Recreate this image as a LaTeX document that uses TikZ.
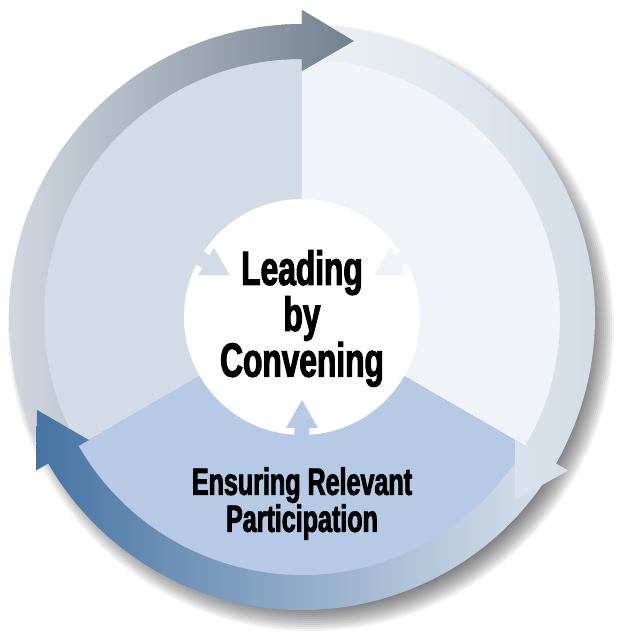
\documentclass[tikz,border=0pt]{standalone}
\usepackage{fontspec}
\newfontfamily\condfont{Liberation Sans}[FakeStretch=0.66, BoldFeatures={FakeBold=2.2}]
\definecolor{sectl}{HTML}{D3DBE7}
\definecolor{sectr}{HTML}{F0F4F8}
\definecolor{sectb}{HTML}{B7CAE5}
\definecolor{toplight}{HTML}{DCE2E9}
\definecolor{topdark}{HTML}{738090}
\definecolor{rightlight}{HTML}{EEF2F6}
\definecolor{rightdark}{HTML}{D3DCE6}
\definecolor{botdark}{HTML}{4673A2}
\definecolor{botlight}{HTML}{DCE4EE}
\usetikzlibrary{positioning}

\begin{document}
\begin{tikzpicture}[x=1pt, y=1pt,
    ringarrow/.style 2 args={insert path={
      (#1:293) arc[start angle=#1, end angle=#2, radius=293]
      -- (#2:307) -- ([shift={(#2-90:52)}]#2:276) -- (#2:246)
      -- (#2:258) arc[start angle=#2, end angle=#1, radius=258] -- cycle}},
    toparrow/.style={left color=toplight, right color=topdark},
    rightarrow/.style={left color=rightlight, right color=rightdark},
    botarrow/.style={left color=botdark, right color=botlight},
    hubtext/.style={font=\condfont\bfseries\fontsize{48}{39.5}\selectfont, align=center, inner sep=0pt},
    sectortext/.style={font=\condfont\bfseries\fontsize{38}{37}\selectfont, align=center, inner sep=0pt}]

    % Page and soft shadow
    \fill[white] (-302,-318) rectangle (319,317);
    \useasboundingbox (-302,-318) rectangle (319,317);
    \foreach \k in {0,...,11}
      \fill[black, opacity=0.05] (9,-11) circle (303-2*\k);

    % Three sectors
    \fill[sectl] (0,0) -- (90:262) arc[start angle=90, end angle=210, radius=262] -- cycle;
    \fill[sectr] (0,0) -- (-30:262) arc[start angle=-30, end angle=90, radius=262] -- cycle;
    \fill[sectb] (0,0) -- (210:262) arc[start angle=210, end angle=330, radius=262] -- cycle;

    % Ring of arrows (clockwise)
    \shade[toparrow, ringarrow={213}{90}];
    \shade[rightarrow, ringarrow={93}{-30}];
    \shade[botarrow, ringarrow={-27}{-150}];
    % heads laid again over the next tail
    \begin{scope}
      \clip (0,0) -- (94:340) -- (65:340) -- cycle;
      \shade[toparrow, ringarrow={213}{90}];
    \end{scope}
    \begin{scope}
      \clip (0,0) -- (-26:340) -- (-55:340) -- cycle;
      \shade[rightarrow, ringarrow={93}{-30}];
    \end{scope}

    % Hub with inward pointers
    \node[circle, fill=white, inner sep=0pt, minimum size=236pt] (hub) at (0,0) {};
    \foreach \a/\c in {150/sectl, 30/sectr, 270/sectb}
      \fill[\c, rotate=\a] (126,-7.5) -- (111,-7.5) -- (111,-16) -- (83,0)
        -- (111,16) -- (111,7.5) -- (126,7.5) -- cycle;

    % Labels
    \node[hubtext] (lead) at (0,-1.5) {Leading\\by\\Convening};
    \node[sectortext] (ensure) at (0,-186.5) {Ensuring Relevant\\Participation};
\end{tikzpicture}
\end{document}
